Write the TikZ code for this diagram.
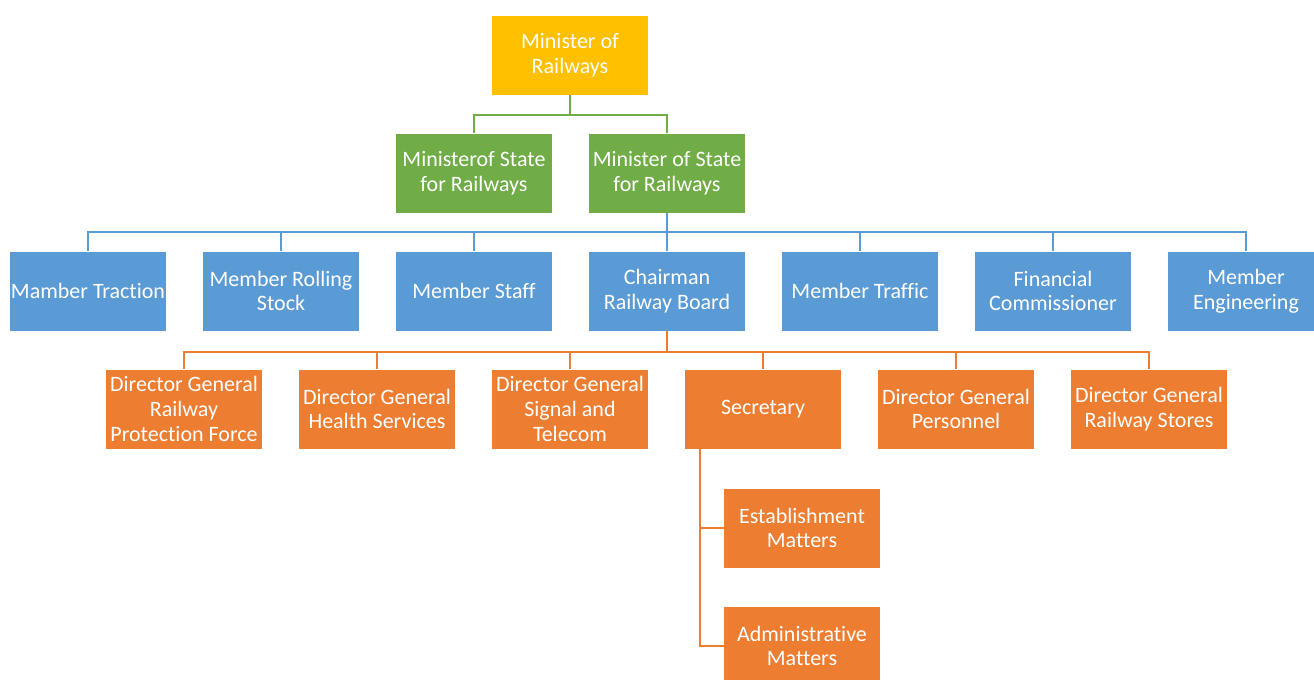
\documentclass[tikz,border=0pt]{standalone}
\usepackage{fontspec}
\setmainfont{Carlito}[Ligatures=NoCommon]
\usetikzlibrary{positioning}

\definecolor{mrgold}{HTML}{FFC000}
\definecolor{mosgreen}{HTML}{70AD47}
\definecolor{memblue}{HTML}{5B9BD5}
\definecolor{dgorange}{HTML}{ED7D31}

\begin{document}
\begin{tikzpicture}[x=0.75pt,y=-0.75pt,node distance=27pt,
    font=\fontsize{16.5pt}{18.5pt}\selectfont]
  \tikzset{
    box/.style={
      rectangle,
      draw=white,
      line width=0.5pt,
      text=white,
      align=center,
      inner sep=1pt,
      outer sep=0pt,
      minimum width=117.75pt,
      minimum height=60pt},
    mrbox/.style={box, fill=mrgold},
    mosbox/.style={box, fill=mosgreen},
    membox/.style={box, fill=memblue},
    dgbox/.style={box, fill=dgorange},
    link/.style={line width=1.5pt}}

  \useasboundingbox (0,0) rectangle (1314,680);
  \clip (0,0) rectangle (1314,680);

  \node[mrbox] (mr) at (570,55) {Minister of\\Railways};

  \node[mosbox] (ms2) at (667,173) {Minister of State\\for Railways};
  \node[mosbox] (ms1) [left=of ms2] {Ministerof State\\for Railways};

  \node[membox] (crb) [below=28.5pt of ms2] {Chairman\\Railway Board};
  \node[membox] (mst) [left=of crb] {Member Staff};
  \node[membox] (mrs) [left=of mst] {Member Rolling\\Stock};
  \node[membox] (mtr) [left=of mrs] {Mamber Traction};
  \node[membox] (mtf) [right=of crb] {Member Traffic};
  \node[membox] (fc) [right=of mtf] {Financial\\Commissioner};
  \node[membox] (men) [right=of fc] {Member\\Engineering};

  \node[dgbox] (sec) at (763,409) {Secretary};
  \node[dgbox] (dgsig) [left=of sec] {Director General\\Signal and\\Telecom};
  \node[dgbox] (dghs) [left=of dgsig] {Director General\\Health Services};
  \node[dgbox] (dgrpf) [left=of dghs] {Director General\\Railway\\Protection Force};
  \node[dgbox] (dgper) [right=of sec] {Director General\\Personnel};
  \node[dgbox] (dgst) [right=of dgper] {Director General\\Railway Stores};

  \node[dgbox] (est) at (802,528) {Establishment\\Matters};
  \node[dgbox] (adm) [below=28.5pt of est] {Administrative\\Matters};

  % minister to ministers of state
  \draw[link, mosgreen] (mr.south) -- ++(0,20) -| (ms1.north);
  \draw[link, mosgreen] (mr.south) -- ++(0,20) -| (ms2.north);

  % board members
  \foreach \m in {mtr, mrs, mst, crb, mtf, fc, men}
    \draw[link, memblue] (ms2.south) -- ++(0,19) -| (\m.north);

  % directors general
  \foreach \d in {dgrpf, dghs, dgsig, sec, dgper, dgst}
    \draw[link, dgorange] (crb.south) -- ++(0,21) -| (\d.north);

  % secretary branches
  \draw[link, dgorange] (sec.south west) ++(15,0) |- (est.west);
  \draw[link, dgorange] (sec.south west) ++(15,0) |- (adm.west);

\end{tikzpicture}
\end{document}
